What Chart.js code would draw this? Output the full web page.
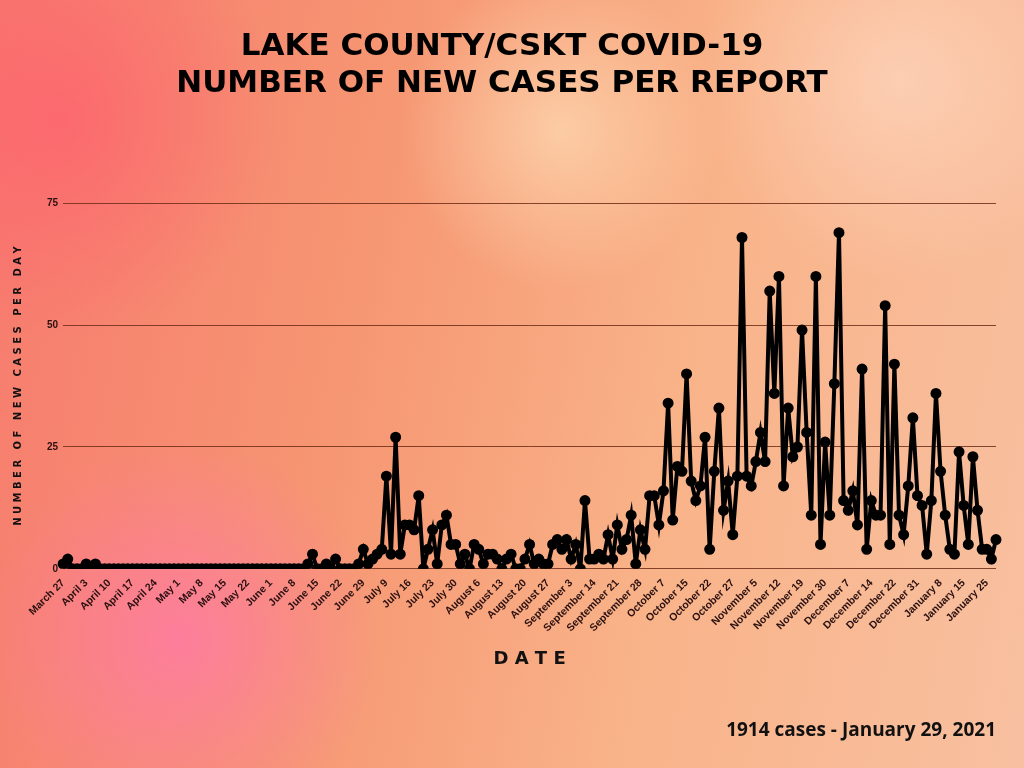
<!DOCTYPE html>
<html><head><meta charset="utf-8">
<script src="https://cdn.jsdelivr.net/npm/chart.js@4"></script>
<style>
html,body{margin:0;padding:0;}
body{width:1024px;height:768px;overflow:hidden;position:relative;
background:
radial-gradient(circle at 180px 640px, rgba(255,120,170,0.75) 0, rgba(255,120,170,0) 200px),
radial-gradient(circle at 560px 130px, rgba(255,230,190,0.6) 0, rgba(255,230,190,0) 160px),
radial-gradient(circle at 900px 80px, rgba(255,220,200,0.6) 0, rgba(255,220,200,0) 200px),
radial-gradient(circle at 60px 120px, rgba(255,90,110,0.6) 0, rgba(255,90,110,0) 220px),
linear-gradient(100deg,#f77a6e 0%,#f69672 35%,#f9b389 65%,#f8c0a0 100%);}
#wrap{position:absolute;left:0;top:0;width:1024px;height:768px;}
#foot{position:absolute;right:28px;top:716px;font:bold 19px "Open Sans",sans-serif;color:#111;}
</style></head><body>
<div id="wrap"><canvas id="c" width="1024" height="768"></canvas></div>
<div id="foot">1914 cases - January 29, 2021</div>
<script>
const tickNames=["March 27","April 3","April 10","April 17","April 24","May 1","May 8","May 15","May 22","June 1","June 8","June 15","June 22","June 29","July 9","July 16","July 23","July 30","August 6","August 13","August 20","August 27","September 3","September 14","September 21","September 28","October 7","October 15","October 22","October 27","November 5","November 12","November 19","November 30","December 7","December 14","December 22","December 31","January 8","January 15","January 25"];
const earlyCases=[1,2,0,0,0,1,0,1,0,0,0,0,0,0,0,0,0,0,0,0,0,0,0,0,0,0,0,0,0,0,0,0,0,0,0,0,0,0,0,0,0,0,0,0,0,0,0,0,0,0,0,0,0,1,3,0,0,1,0,2,0,0,0,0,1];
const summerCases=[4,1,2,3,4,19,3,27,3,9,9,8,15,0,4,8,1,9,11,5,5,1,3,0,5,4,1,3,3,2,0,2,3,0,0,2,5,1,2,1,1,5,6,4,6,2,5,0,14,2,2,3,2,7,2,9,4,6,11,1,8,4,15,15];
const fallCases=[9,16,34,10,21,20,40,18,14,17,27,4,20,33,12,18,7,19,68,19,17,22,28,22,57,36,60,17,33,23,25,49,28,11,60,5,26,11,38,69,14,12,16,9,41,4,14,11,11,54,5,42,11,7,17,31,15,13,3,14,36,20,11,4,3,24,13,5,23,12,4,4,2,6];
const values=earlyCases.concat(summerCases,fallCases);
const labels=values.map((v,i)=> i%5===0 && tickNames[i/5] ? tickNames[i/5] : '');
new Chart(document.getElementById('c'),{
 type:'line',
 data:{labels:labels,datasets:[{data:values,borderColor:'#000',backgroundColor:'#000',borderWidth:4,pointRadius:3.5,pointBackgroundColor:'#000',tension:0}]},
 options:{responsive:false,animation:false,
  layout:{padding:{left:8,right:28,top:0,bottom:94}},
  plugins:{legend:{display:false},tooltip:{enabled:false},
   title:{display:true,text:['LAKE COUNTY/CSKT COVID-19','NUMBER OF NEW CASES PER REPORT'],color:'#000',font:{family:'"DejaVu Sans"',size:31,weight:'bold'},lineHeight:1.75,padding:{top:28,bottom:101}}},
  scales:{
   x:{grid:{display:false},border:{display:false},
      ticks:{autoSkip:false,maxRotation:45,minRotation:45,color:'#2a1010',font:{family:'"Liberation Sans"',size:10.5,weight:'bold'},padding:0,callback:function(v,i){return labels[i];}},
      title:{display:true,text:'D A T E',color:'#111',font:{family:'"DejaVu Sans"',size:18,weight:'bold'},padding:{top:14}}},
   y:{min:0,max:75,grid:{color:'rgba(110,45,25,0.85)',lineWidth:1,drawTicks:false},border:{display:false},
      ticks:{stepSize:25,color:'#2a1010',font:{family:'"Liberation Sans"',size:10,weight:'bold'},padding:5},
      title:{display:true,text:'N U M B E R   O F   N E W   C A S E S   P E R   D A Y',color:'#111',font:{family:'"DejaVu Sans"',size:10,weight:'bold'},padding:{bottom:18}}}
  }}
});
</script></body></html>
